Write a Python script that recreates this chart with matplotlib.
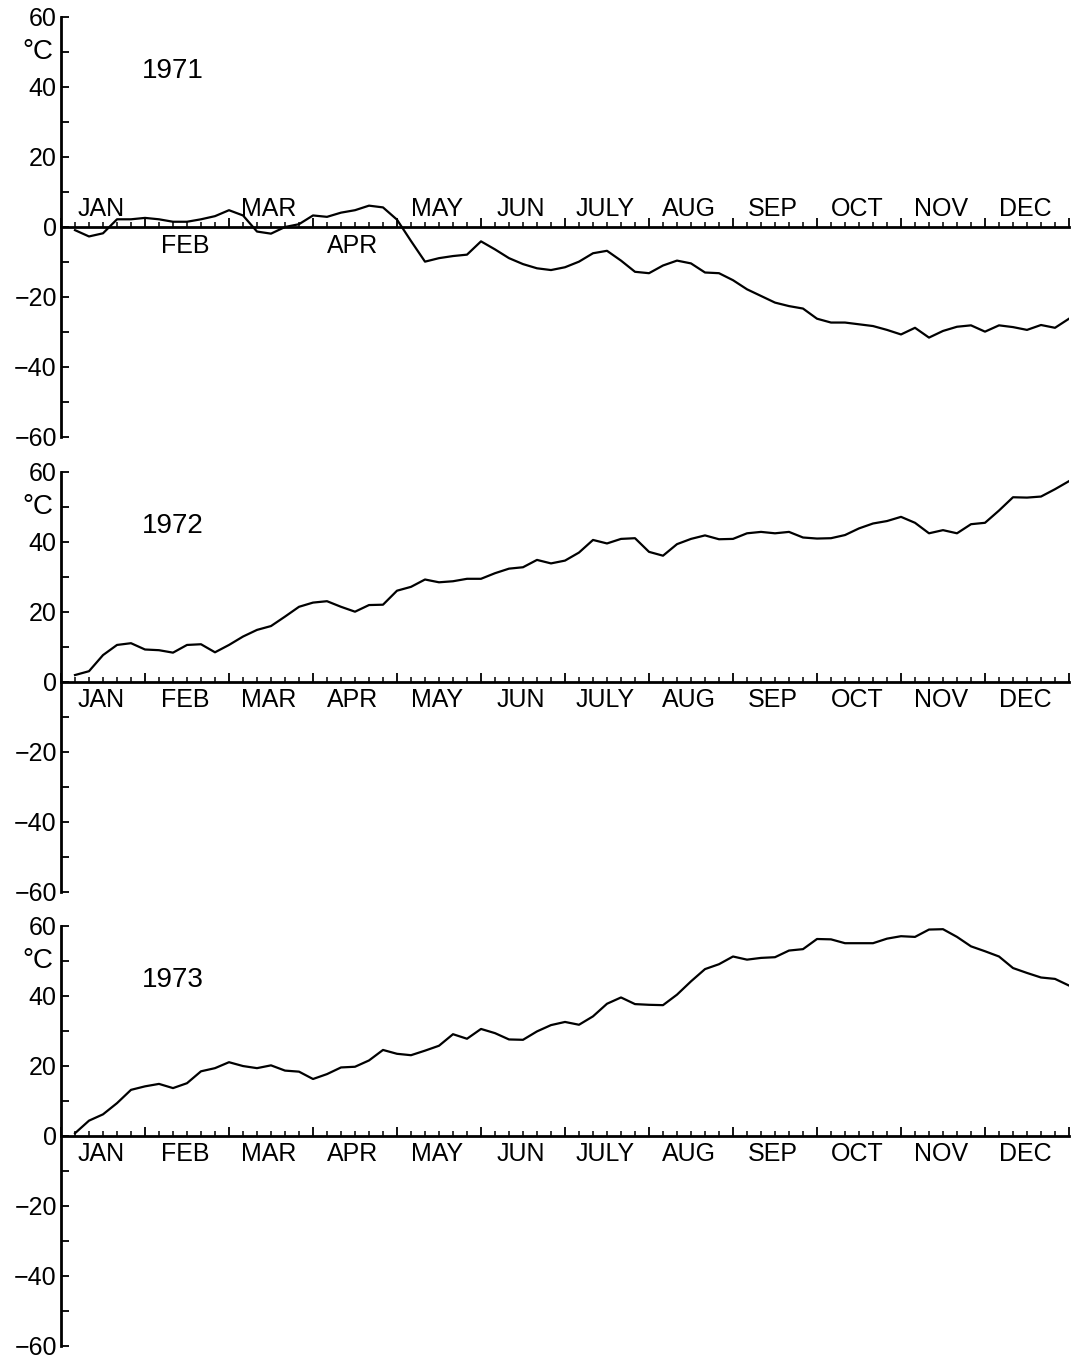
import numpy as np
import matplotlib
matplotlib.use("Agg")
import matplotlib.pyplot as plt
from matplotlib.ticker import MultipleLocator

plt.rcParams['font.family'] = ['Liberation Sans', 'DejaVu Sans']

# ---------- Data (5-day means, 72 per year) ----------
pentads = np.arange(1, 73)

months = ["JAN", "FEB", "MAR", "APR", "MAY", "JUN",
          "JULY", "AUG", "SEP", "OCT", "NOV", "DEC"]

temp_1971 = [-0.9, -2.7, -1.8, 2.2, 2.2, 2.6, 2.2, 1.5, 1.5, 2.2,
             3.1, 4.8, 3.3, -1.3, -1.9, 0.0, 0.8, 3.3, 2.9, 4.1,
             4.8, 6.1, 5.6, 2.1, -4.0, -9.9, -8.9, -8.3, -7.9, -4.1,
             -6.4, -8.9, -10.6, -11.8, -12.3, -11.5, -9.9, -7.5, -6.8, -9.6,
             -12.8, -13.2, -11.0, -9.6, -10.4, -13.0, -13.2, -15.2, -17.8, -19.7,
             -21.6, -22.6, -23.3, -26.2, -27.3, -27.3, -27.8, -28.3, -29.4, -30.7,
             -28.8, -31.6, -29.7, -28.5, -28.1, -29.9, -28.1, -28.6, -29.4, -28.0,
             -28.8, -26.2]

temp_1972 = [1.9, 3.0, 7.6, 10.5, 11.0, 9.2, 9.0, 8.3, 10.5, 10.7,
             8.4, 10.5, 12.9, 14.8, 15.9, 18.6, 21.4, 22.6, 23.0, 21.4,
             20.0, 21.9, 22.0, 26.0, 27.1, 29.2, 28.4, 28.7, 29.4, 29.4,
             31.0, 32.3, 32.7, 34.8, 33.8, 34.6, 36.9, 40.5, 39.5, 40.8,
             41.0, 37.1, 36.0, 39.3, 40.8, 41.8, 40.7, 40.8, 42.4, 42.8,
             42.4, 42.8, 41.2, 40.9, 41.0, 41.9, 43.8, 45.2, 45.9, 47.1,
             45.4, 42.4, 43.3, 42.4, 45.0, 45.4, 48.9, 52.7, 52.6, 52.9,
             55.0, 57.3]

temp_1973 = [0.7, 4.3, 6.1, 9.3, 13.1, 14.1, 14.8, 13.6, 15.0, 18.4,
             19.3, 21.0, 19.9, 19.3, 20.1, 18.6, 18.3, 16.2, 17.6, 19.5,
             19.7, 21.5, 24.5, 23.4, 23.0, 24.3, 25.7, 29.0, 27.7, 30.5,
             29.3, 27.5, 27.4, 29.8, 31.6, 32.5, 31.7, 34.1, 37.7, 39.5,
             37.6, 37.4, 37.3, 40.3, 44.1, 47.6, 49.0, 51.2, 50.3, 50.8,
             51.0, 52.9, 53.3, 56.2, 56.1, 55.0, 55.0, 55.0, 56.3, 57.0,
             56.8, 58.9, 59.0, 56.8, 54.1, 52.7, 51.2, 47.9, 46.5, 45.2,
             44.8, 42.9]

years = ["1971", "1972", "1973"]
series = [temp_1971, temp_1972, temp_1973]

# month label side: True = above the zero line
sides_1971 = [True, False, True, False, True, True,
              True, True, True, True, True, True]
sides_other = [False] * 12
sides = [sides_1971, sides_other, sides_other]

# ---------- Plot ----------
fig = plt.figure(figsize=(10.71, 13.6), dpi=100)

left = 61 / 1071
width = 1008 / 1071
height = 420 / 1360
bottoms = [1 - 437 / 1360, 1 - 891.7 / 1360, 1 - 1345.7 / 1360]

FS = 18

for year, vals, side, bot in zip(years, series, sides, bottoms):
    ax = fig.add_axes([left, bot, width, height])
    ax.plot(pentads, vals, color="black", linewidth=1.6)

    ax.set_xlim(0, 72)
    ax.set_ylim(-60, 60)

    ax.spines['top'].set_visible(False)
    ax.spines['right'].set_visible(False)
    ax.spines['bottom'].set_position(('data', 0))
    ax.spines['bottom'].set_linewidth(2)
    ax.spines['left'].set_linewidth(2)

    ax.xaxis.set_major_locator(MultipleLocator(6))
    ax.xaxis.set_minor_locator(MultipleLocator(1))
    ax.yaxis.set_major_locator(MultipleLocator(20))
    ax.yaxis.set_minor_locator(MultipleLocator(10))

    ax.tick_params(axis='x', which='major', direction='in', length=6.5,
                   width=1.3, labelbottom=False)
    ax.tick_params(axis='x', which='minor', direction='in', length=3.5,
                   width=1.1)
    ax.tick_params(axis='y', which='both', direction='in', length=5.5,
                   width=1.3, labelsize=FS, pad=3)

    # month names between the month ticks
    for m, (name, above) in enumerate(zip(months, side)):
        xc = m * 6 + 3
        yb = 3.2 if above else -7.3
        ax.text(xc - 0.15, yb, name, ha='center', va='baseline', fontsize=FS)

    ax.text(8.0, 44.5, year, ha='center', va='center', fontsize=20)
    ax.text(-0.008, 50, "°C", transform=ax.get_yaxis_transform(),
            ha='right', va='center', fontsize=20)

plt.savefig("out.png", dpi=100)
plt.close()
